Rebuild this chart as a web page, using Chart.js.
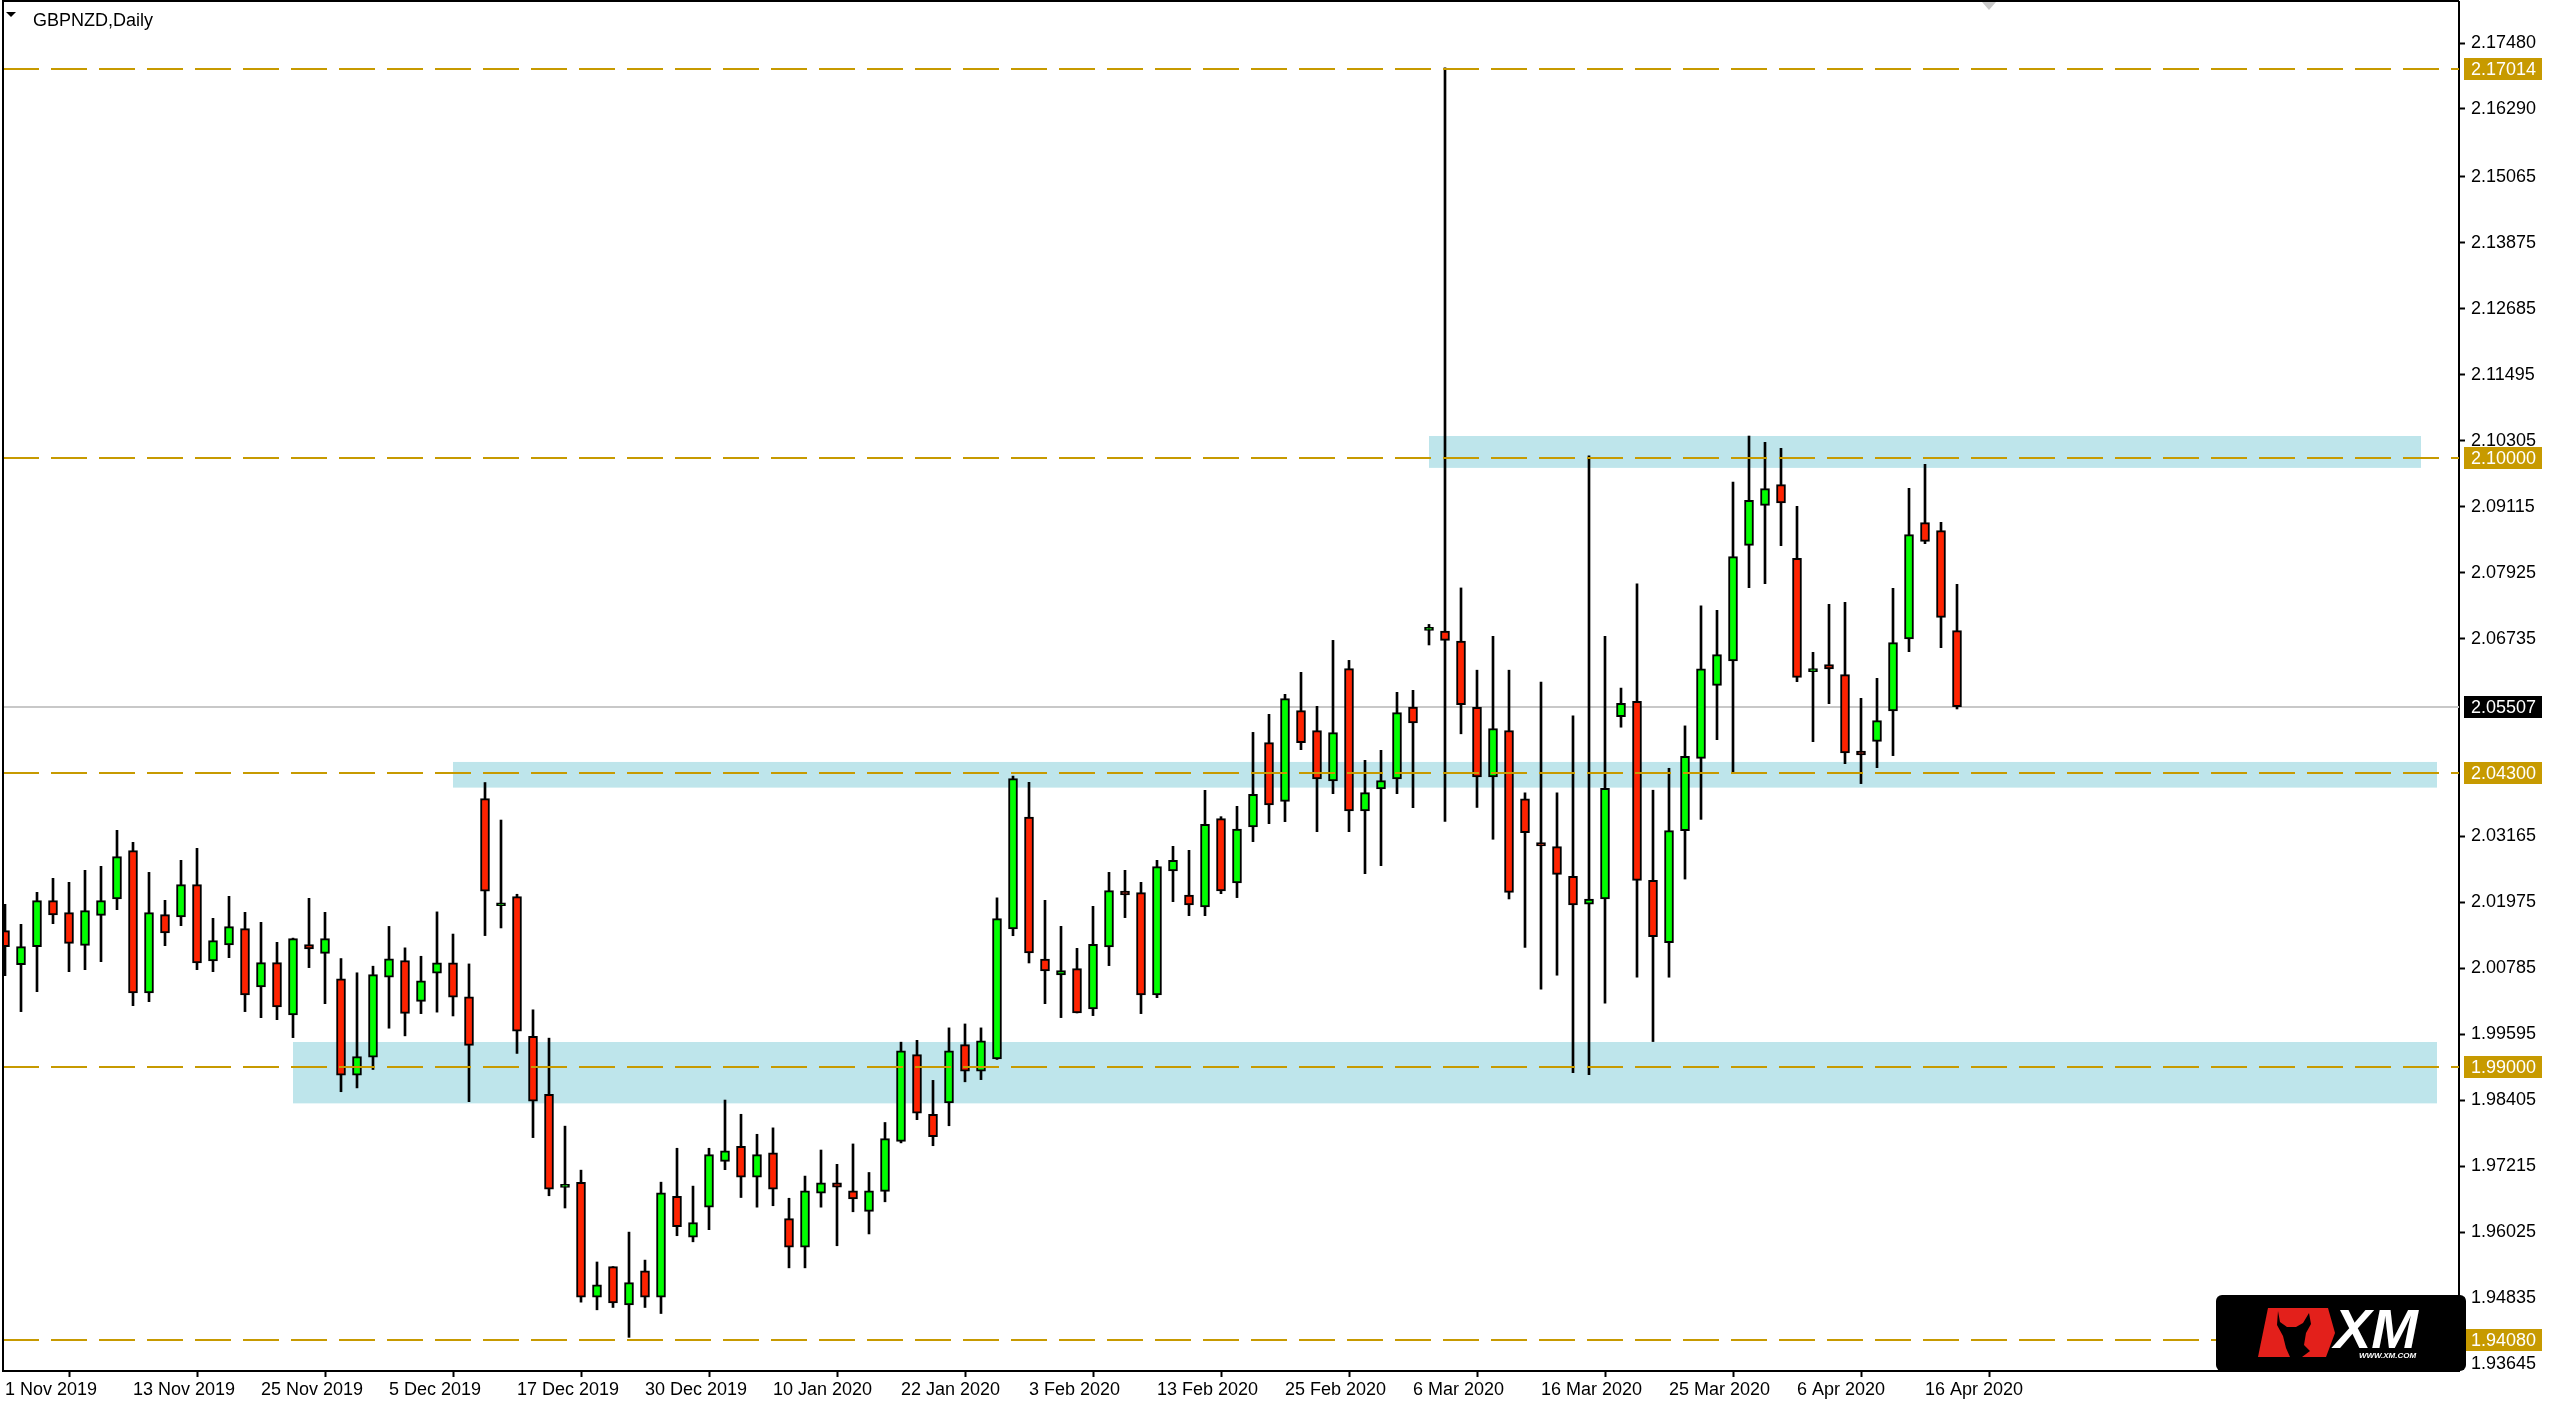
<!DOCTYPE html>
<html>
<head>
<meta charset="utf-8">
<script src="https://cdn.jsdelivr.net/npm/chart.js@4.4.1/dist/chart.umd.min.js"></script>
<style>
  html, body { margin: 0; padding: 0; background: #fff; overflow: hidden; }
  canvas { display: block; }
</style>
</head>
<body>
<canvas id="chart" width="2552" height="1412"></canvas>
<script>
// GBPNZD daily candles, 1 Nov 2019 .. 20 Apr 2020 (one entry per bar)
const opens = [
  2.01464, 2.00851, 2.01175, 2.02005, 2.01789, 2.01199, 2.01741, 2.02035, 2.02907, 2.00339,
  2.01753, 2.01711, 2.02294, 2.00917, 2.01205, 2.01500, 2.00448, 2.00887, 1.99942, 2.01211,
  2.01055, 2.00595, 1.98855, 1.99180, 2.00623, 2.00926, 2.00188, 2.00699, 2.00885, 2.00271,
  2.03847, 2.01914, 2.02079, 1.99559, 1.98510, 1.96833, 1.96922, 1.94851, 1.95403, 1.94713,
  1.95327, 1.94851, 1.96669, 1.95934, 1.96475, 1.97300, 1.97571, 1.97017, 1.97455, 1.96269,
  1.95754, 1.96727, 1.96913, 1.96772, 1.96398, 1.96759, 1.97661, 1.99227, 1.98151, 1.98357,
  1.99407, 1.98930, 1.99149, 2.01495, 2.03515, 2.00953, 2.00664, 2.00779, 2.00051, 2.01170,
  2.02180, 2.02150, 2.00303, 2.02541, 2.02108, 2.01891, 2.03485, 2.02324, 2.03334, 2.04856,
  2.03798, 2.05433, 2.05072, 2.04164, 2.06191, 2.03623, 2.04020, 2.04200, 2.05500, 2.06883,
  2.06871, 2.06691, 2.05494, 2.04238, 2.05075, 2.03843, 2.03053, 2.02981, 2.02443, 2.01940,
  2.02036, 2.05327, 2.05602, 2.02371, 2.01246, 2.03268, 2.04573, 2.05891, 2.06330, 2.08417,
  2.09138, 2.09511, 2.08182, 2.06137, 2.06264, 2.06083, 2.04706, 2.04880, 2.05428, 2.06727,
  2.08825, 2.08681, 2.06877
];
const highs = [
  2.01939, 2.01578, 2.02156, 2.02408, 2.02336, 2.02553, 2.02625, 2.03274, 2.03058, 2.02516,
  2.02011, 2.02733, 2.02950, 2.01687, 2.02084, 2.01795, 2.01614, 2.01254, 2.01330, 2.02047,
  2.01795, 2.00961, 2.00704, 2.00823, 2.01541, 2.01154, 2.01002, 2.01803, 2.01403, 2.00864,
  2.04137, 2.03460, 2.02121, 2.00036, 1.99525, 1.97937, 1.97143, 1.95486, 1.95403, 1.96025,
  1.95520, 1.96926, 1.97538, 1.96855, 1.97538, 1.98408, 1.98151, 1.97790, 1.97906, 1.96636,
  1.97036, 1.97506, 1.97248, 1.97616, 1.97101, 1.98003, 1.99452, 1.99485, 1.98763, 1.99710,
  1.99781, 1.99710, 2.02056, 2.04253, 2.04140, 2.02011, 2.01542, 2.01145, 2.01903, 2.02516,
  2.02553, 2.02336, 2.02733, 2.02986, 2.02914, 2.03996, 2.03521, 2.03707, 2.05042, 2.05367,
  2.05728, 2.06125, 2.05512, 2.06702, 2.06341, 2.04537, 2.04718, 2.05764, 2.05800, 2.06990,
  2.17030, 2.07648, 2.06164, 2.06775, 2.06164, 2.03951, 2.05949, 2.03951, 2.05339, 2.10030,
  2.06775, 2.05841, 2.07720, 2.03998, 2.04394, 2.05159, 2.07325, 2.07244, 2.09559, 2.10389,
  2.10275, 2.10167, 2.09120, 2.06486, 2.07352, 2.07388, 2.05656, 2.06017, 2.07641, 2.09445,
  2.09878, 2.08832, 2.07713
];
const lows = [
  2.00652, 2.00003, 2.00363, 2.01590, 2.00724, 2.00760, 2.00905, 2.01843, 2.00111, 2.00183,
  2.01193, 2.01554, 2.00760, 2.00724, 2.00977, 2.00003, 1.99894, 1.99858, 1.99534, 2.00797,
  2.00147, 1.98558, 1.98627, 1.98959, 1.99704, 1.99566, 1.99967, 1.99994, 1.99925, 1.98379,
  2.01375, 2.01513, 1.99249, 1.97730, 1.96681, 1.96460, 1.94761, 1.94623, 1.94665, 1.94126,
  1.94665, 1.94556, 1.95960, 1.95850, 1.96069, 1.97152, 1.96649, 1.96475, 1.96501, 1.95380,
  1.95380, 1.96475, 1.95779, 1.96392, 1.95992, 1.96572, 1.97635, 1.98054, 1.97584, 1.97944,
  1.98737, 1.98776, 1.99140, 2.01373, 2.00881, 2.00147, 1.99895, 1.99979, 1.99931, 2.00833,
  2.01699, 1.99967, 2.00255, 2.01987, 2.01735, 2.01735, 2.02132, 2.02060, 2.03070, 2.03395,
  2.03431, 2.04730, 2.03250, 2.03936, 2.03250, 2.02492, 2.02637, 2.03936, 2.03683, 2.06619,
  2.03436, 2.05016, 2.03687, 2.03113, 2.02036, 2.01162, 2.00408, 2.00660, 1.98901, 1.98865,
  2.00157, 2.05135, 2.00624, 1.99463, 2.00624, 2.02395, 2.03472, 2.04910, 2.04297, 2.07653,
  2.07725, 2.08411, 2.05957, 2.04874, 2.05560, 2.04477, 2.04117, 2.04405, 2.04622, 2.06498,
  2.08447, 2.06570, 2.05464
];
const closes = [
  2.01175, 2.01175, 2.02005, 2.01747, 2.01236, 2.01825, 2.02005, 2.02799, 2.00339, 2.01789,
  2.01422, 2.02294, 2.00881, 2.01284, 2.01536, 2.00303, 2.00887, 2.00087, 2.01320, 2.01133,
  2.01320, 1.98855, 1.99194, 2.00671, 2.00954, 1.99973, 2.00561, 2.00885, 2.00264, 1.99394,
  2.02176, 2.01914, 1.99649, 1.98386, 1.96798, 1.96833, 1.94851, 1.95072, 1.94747, 1.95113,
  1.94851, 1.96733, 1.96121, 1.96198, 1.97423, 1.97493, 1.97017, 1.97423, 1.96798, 1.95754,
  1.96772, 1.96913, 1.96836, 1.96623, 1.96772, 1.97712, 1.99298, 1.98170, 1.97745, 1.99298,
  1.98930, 1.99478, 2.01682, 2.04208, 2.01061, 2.00736, 2.00742, 1.99979, 2.01218, 2.02186,
  2.02108, 2.00303, 2.02619, 2.02733, 2.01927, 2.03383, 2.02180, 2.03298, 2.03924, 2.03731,
  2.05650, 2.04856, 2.04200, 2.05036, 2.03623, 2.03954, 2.04170, 2.05397, 2.05211, 2.06883,
  2.06703, 2.05542, 2.04238, 2.05111, 2.02155, 2.03233, 2.02993, 2.02479, 2.01928, 2.02036,
  2.04034, 2.05566, 2.02371, 2.01354, 2.03268, 2.04609, 2.06188, 2.06444, 2.08212, 2.09228,
  2.09439, 2.09180, 2.06035, 2.06137, 2.06185, 2.04670, 2.04634, 2.05253, 2.06660, 2.08609,
  2.08489, 2.07118, 2.05507
];

// date labels and the bars they sit on
const tickBars = [0, 8, 16, 24, 32, 40, 48, 56, 64, 72, 80, 88, 96, 104, 112, 120];
const tickLabels = [
  '1 Nov 2019', '13 Nov 2019', '25 Nov 2019', '5 Dec 2019', '17 Dec 2019', '30 Dec 2019',
  '10 Jan 2020', '22 Jan 2020', '3 Feb 2020', '13 Feb 2020', '25 Feb 2020', '6 Mar 2020',
  '16 Mar 2020', '25 Mar 2020', '6 Apr 2020', '16 Apr 2020'
];
const priceTicks = [
  2.17480, 2.16290, 2.15065, 2.13875, 2.12685, 2.11495, 2.10305, 2.09115, 2.07925, 2.06735,
  2.03165, 2.01975, 2.00785, 1.99595, 1.98405, 1.97215, 1.96025, 1.94835, 1.93645
];

// horizontal levels, current price and support/resistance zones
const levels = [2.17014, 2.10000, 2.04300, 1.99000, 1.94080];
const lastPrice = 2.05507;
const zoneFrom = [89, 28, 18];
const zoneTo = [151, 152, 152];
const zoneHigh = [2.10389, 2.04508, 1.99455];
const zoneLow = [2.09814, 2.04045, 1.98348];

const UP = '#00ff00';
const DOWN = '#ff2200';
const GOLD = '#c79a00';
const FONT = '"Liberation Sans", Arial, sans-serif';

const overlay = {
  id: 'overlay',
  beforeDatasetsDraw(chart) {
    const { ctx, chartArea: a, scales: { x, y } } = chart;
    ctx.save();
    ctx.beginPath();
    ctx.rect(a.left, a.top, a.right - a.left, a.bottom - a.top);
    ctx.clip();
    ctx.fillStyle = '#bee5eb';
    zoneFrom.forEach((f, i) => {
      const x0 = x.getPixelForValue(f);
      const x1 = x.getPixelForValue(zoneTo[i]);
      const y0 = y.getPixelForValue(zoneHigh[i]);
      const y1 = y.getPixelForValue(zoneLow[i]);
      ctx.fillRect(x0, y0, x1 - x0, y1 - y0);
    });
    // bid line
    const py = Math.round(y.getPixelForValue(lastPrice));
    ctx.strokeStyle = '#c8c8c8';
    ctx.lineWidth = 2;
    ctx.beginPath();
    ctx.moveTo(a.left, py);
    ctx.lineTo(a.right, py);
    ctx.stroke();
    ctx.restore();
  },
  afterDatasetsDraw(chart) {
    const { ctx, chartArea: a, scales: { y } } = chart;
    ctx.save();
    ctx.strokeStyle = GOLD;
    ctx.lineWidth = 2;
    ctx.setLineDash([36, 12]);
    levels.forEach(v => {
      const py = Math.round(y.getPixelForValue(v));
      ctx.beginPath();
      ctx.moveTo(a.left, py);
      ctx.lineTo(a.right, py);
      ctx.stroke();
    });
    ctx.restore();
  },
  afterDraw(chart) {
    const { ctx, chartArea: a, scales: { x, y } } = chart;
    ctx.save();

    // frame on the left and top
    ctx.strokeStyle = '#000';
    ctx.lineWidth = 2;
    ctx.beginPath();
    ctx.moveTo(a.left, a.bottom);
    ctx.lineTo(a.left, 1);
    ctx.lineTo(a.right, 1);
    ctx.stroke();

    // price labels on the axis
    ctx.font = '18px ' + FONT;
    ctx.textBaseline = 'middle';
    ctx.textAlign = 'left';
    const boxLabel = (v, bg) => {
      const py = Math.round(y.getPixelForValue(v));
      ctx.fillStyle = bg;
      ctx.fillRect(a.right + 5, py - 11, 78, 22);
      ctx.fillStyle = '#fff';
      ctx.fillText(v.toFixed(5), a.right + 12, py + 1);
    };
    levels.forEach(v => {
      const py = Math.round(y.getPixelForValue(v));
      ctx.fillStyle = GOLD;
      ctx.fillRect(a.right - 7, py - 1, 6, 2);
      boxLabel(v, GOLD);
    });
    boxLabel(lastPrice, '#000');

    // title
    ctx.fillStyle = '#000';
    ctx.beginPath();
    ctx.moveTo(6, 12);
    ctx.lineTo(16, 12);
    ctx.lineTo(11, 17);
    ctx.closePath();
    ctx.fill();
    ctx.textBaseline = 'alphabetic';
    ctx.fillText('GBPNZD,Daily', 33, 26);

    // chart shift marker
    const sx = x.getPixelForValue(124);
    ctx.fillStyle = '#c8c8c8';
    ctx.beginPath();
    ctx.moveTo(sx - 7, 2);
    ctx.lineTo(sx + 7, 2);
    ctx.lineTo(sx, 10);
    ctx.closePath();
    ctx.fill();

    // broker logo
    const lx = 2216, ly = 1295;
    ctx.fillStyle = '#000';
    ctx.beginPath();
    ctx.roundRect(lx, ly, 250, 76, 6);
    ctx.fill();
    ctx.fillStyle = '#e3201b';
    ctx.beginPath();
    [[52, 13], [112, 13], [119, 38], [110, 62], [42, 62]].forEach(([px, qy], i) => {
      if (i === 0) ctx.moveTo(lx + px, ly + qy); else ctx.lineTo(lx + px, ly + qy);
    });
    ctx.closePath();
    ctx.fill();
    ctx.fillStyle = '#000';
    ctx.beginPath();
    [[62, 16], [64, 27], [71, 32], [80, 32], [87, 28], [93, 18], [95, 29], [90, 38], [88, 50],
     [94, 56], [86, 62], [74, 62], [70, 53], [67, 41], [61, 30]].forEach(([px, qy], i) => {
      if (i === 0) ctx.moveTo(lx + px, ly + qy); else ctx.lineTo(lx + px, ly + qy);
    });
    ctx.closePath();
    ctx.fill();
    ctx.fillStyle = '#fff';
    ctx.font = 'italic bold 56px ' + FONT;
    ctx.fillText('XM', lx + 118, ly + 53);
    ctx.font = 'italic bold 8px ' + FONT;
    ctx.fillText('WWW.XM.COM', lx + 143, ly + 63);

    ctx.restore();
  }
};

const ctx = document.getElementById('chart').getContext('2d');
new Chart(ctx, {
  type: 'bar',
  data: {
    datasets: [
      {
        label: 'body',
        data: opens.map((o, i) => ({ x: i, y: [o, closes[i]] })),
        backgroundColor: c => closes[c.dataIndex] >= opens[c.dataIndex] ? UP : DOWN,
        borderColor: '#000',
        borderWidth: 2,
        borderSkipped: false,
        barThickness: 9,
        minBarLength: 3,
        grouped: false,
        order: 0
      },
      {
        label: 'wick',
        data: lows.map((l, i) => ({ x: i, y: [l, highs[i]] })),
        backgroundColor: '#000',
        borderWidth: 0,
        barThickness: 2,
        grouped: false,
        order: 1
      }
    ]
  },
  options: {
    responsive: false,
    devicePixelRatio: 1,
    animation: false,
    layout: { padding: { left: 3, top: 2, right: 0, bottom: 0 } },
    plugins: { legend: { display: false }, tooltip: { enabled: false } },
    scales: {
      x: {
        type: 'linear',
        min: -0.125,
        max: 153.375,
        offset: false,
        afterBuildTicks: s => { s.ticks = tickBars.map(v => ({ value: v })); },
        afterFit: s => {
          s.height = 41;
          s.paddingLeft = 0;
          s.paddingRight = 0;
        },
        ticks: {
          autoSkip: false,
          maxRotation: 0,
          align: 'start',
          padding: 2,
          color: '#000',
          font: { family: FONT, size: 18 },
          callback: (v, i) => tickLabels[i]
        },
        grid: { drawOnChartArea: false, drawTicks: true, tickLength: 6, tickColor: '#000', tickWidth: 2 },
        border: { display: true, color: '#000', width: 2 }
      },
      y: {
        type: 'linear',
        position: 'right',
        min: 1.93519,
        max: 2.18220,
        afterBuildTicks: s => { s.ticks = priceTicks.map(v => ({ value: v })); },
        afterFit: s => {
          s.width = 93;
          s.paddingTop = 0;
          s.paddingBottom = 0;
        },
        ticks: {
          autoSkip: false,
          padding: 6,
          color: '#000',
          font: { family: FONT, size: 18 },
          callback: v => v.toFixed(5)
        },
        grid: { drawOnChartArea: false, drawTicks: true, tickLength: 6, tickColor: '#000', tickWidth: 2 },
        border: { display: true, color: '#000', width: 2 }
      }
    }
  },
  plugins: [overlay]
});
</script>
</body>
</html>
